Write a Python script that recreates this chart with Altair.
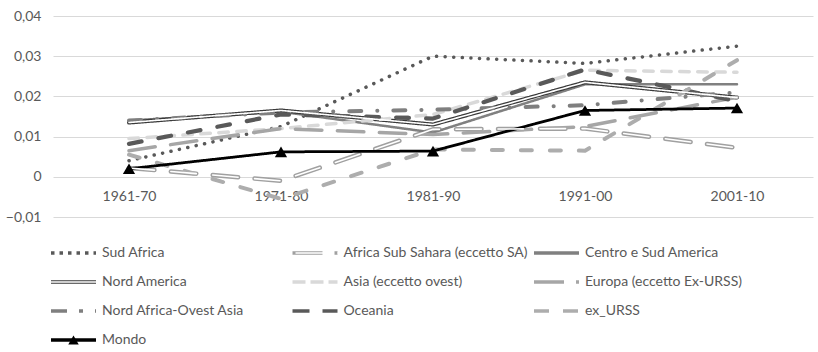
import json
import altair as alt
import pandas as pd

periods = ["1961-70", "1971-80", "1981-90", "1991-00", "2001-10"]
series = ["Sud Africa", "Africa Sub Sahara (eccetto SA)", "Centro e Sud America",
          "Nord America", "Asia (eccetto ovest)", "Europa (eccetto Ex-URSS)",
          "Nord Africa-Ovest Asia", "Oceania", "ex_URSS", "Mondo"]

sud_africa = [0.0040, 0.0125, 0.0300, 0.0282, 0.0325]
africa_ss = [0.0022, -0.0010, 0.0118, 0.0120, 0.0072]
centro_sud_america = [0.0140, 0.0162, 0.0110, 0.0230, 0.0230]
nord_america = [0.0135, 0.0165, 0.0130, 0.0235, 0.0197]
asia = [0.0095, 0.0120, 0.0155, 0.0265, 0.0260]
europa = [0.0065, 0.0120, 0.0105, 0.0125, 0.0198]
nord_africa_ovest_asia = [0.0140, 0.0160, 0.0167, 0.0178, 0.0210]
oceania = [0.0082, 0.0155, 0.0145, 0.0267, 0.0188]
ex_urss = [0.0055, -0.0055, 0.0068, 0.0065, 0.0290]
mondo = [0.0020, 0.0062, 0.0064, 0.0165, 0.0171]

values = [sud_africa, africa_ss, centro_sud_america, nord_america, asia, europa,
          nord_africa_ovest_asia, oceania, ex_urss, mondo]

# styles
colors = ["#595959", "#a0a0a0", "#808080", "#3a3a3a", "#d9d9d9", "#a6a6a6",
          "#7f7f7f", "#595959", "#adadad", "#000000"]
widths = [3.5, 4.5, 2.5, 4, 3.5, 3.5, 4, 4.25, 4, 2.75]
# visible dash / gap lengths (as drawn in the legend, butt caps)
dashes_vis = [[3.5, 5], [30, 12], [1, 0], [1, 0], [13, 5], [30, 12],
              [16, 12, 4, 12], [17, 13], [15, 14], [1, 0]]
# same patterns for round-capped plot lines
dashes_plot = []
for d, w in zip(dashes_vis, widths):
    if d == [1, 0]:
        dashes_plot.append([1, 0])
    else:
        dashes_plot.append([max(d[i] - w, 0.1) if i % 2 == 0 else d[i] + w
                            for i in range(len(d))])
double = ["Africa Sub Sahara (eccetto SA)", "Nord America"]
inner_colors = ["white" if s in double else "transparent" for s in series]

rows = []
for s, vals in zip(series, values):
    for p, v in zip(periods, vals):
        rows.append({"series": s, "period": p, "value": v})
df = pd.DataFrame(rows)

FONT = "Lato"
TXT = "#595959"
FS = 14
series_js = json.dumps(series)
w_expr = f"{json.dumps(widths)}[indexof({series_js}, datum.series)]"
dv_expr = f"{json.dumps(dashes_vis)}[indexof({series_js}, datum.value)]"

legend_common = dict(
    orient="none", legendX=-4, legendY=229, columns=3, gridAlign="all",
    direction="horizontal", clipHeight=16, rowPadding=13,
    labelFont=FONT, labelFontSize=FS, labelColor=TXT,
    labelOffset=4, title=None, labelLimit=400,
)

x_enc = alt.X("period:N", sort=periods, scale=alt.Scale(type="point", padding=0.5),
              axis=alt.Axis(title=None, domain=False, ticks=False, grid=False,
                            offset=-40.2, labelPadding=13, labelAngle=0,
                            labelFont=FONT, labelFontSize=FS, labelColor=TXT))
y_enc = alt.Y("value:Q", scale=alt.Scale(domain=[-0.01, 0.04], nice=False, zero=False),
              axis=alt.Axis(title=None, values=[-0.01, 0, 0.01, 0.02, 0.03, 0.04],
                            domain=False, ticks=False, grid=True, gridColor="#d9d9d9",
                            labelPadding=12,
                            labelExpr="datum.value == 0 ? '0' : replace(format(datum.value, '.2f'), '.', ',')",
                            labelFont=FONT, labelFontSize=FS, labelColor=TXT))

base = alt.Chart(df)

lines = base.mark_line(strokeCap="round", strokeJoin="round").encode(
    x=x_enc,
    y=y_enc,
    color=alt.Color("series:N", sort=series,
                    scale=alt.Scale(range=colors),
                    legend=alt.Legend(**legend_common, symbolType="stroke",
                                      symbolSize=2025, columnPadding=3.5,
                                      symbolStrokeWidth=3.5,
                                      symbolDash={"expr": dv_expr})),
    strokeDash=alt.StrokeDash("series:N", sort=series,
                              scale=alt.Scale(range=dashes_plot), legend=None),
    strokeWidth=alt.StrokeWidth("w:Q", scale=None, legend=None),
).transform_calculate(w=w_expr)

inner = base.mark_line(strokeCap="round", strokeJoin="round", strokeWidth=1.6).encode(
    x=x_enc,
    y=y_enc,
    stroke=alt.Stroke("series2:N", sort=series,
                      scale=alt.Scale(range=inner_colors),
                      legend=alt.Legend(**legend_common, labelExpr="''",
                                        symbolType="stroke", symbolSize=2025,
                                        columnPadding=192.5, symbolOffset=1,
                                        symbolStrokeWidth=1.6,
                                        symbolDash={"expr": dv_expr})),
    strokeDash=alt.StrokeDash("series:N", sort=series,
                              scale=alt.Scale(range=dashes_plot), legend=None),
).transform_calculate(series2="datum.series")

markers = base.mark_point(filled=True, size=150, opacity=1, color="black").encode(
    x=x_enc, y=y_enc,
    shape=alt.Shape("series:N",
                    scale=alt.Scale(domain=series, range=["triangle-up"]),
                    legend=alt.Legend(**legend_common, labelExpr="''",
                                      symbolSize=110, symbolFillColor="black",
                                      symbolStrokeWidth=0,
                                      symbolOffset=17.5, columnPadding=217.5,
                                      symbolOpacity={"expr": "datum.value == 'Mondo' ? 1 : 0"})),
).transform_filter(alt.datum.series == "Mondo")

chart = alt.layer(lines, inner, markers).resolve_scale(shape="independent").properties(
    width=760, height=201,
    autosize=alt.AutoSizeParams(type="none"),
    padding={"left": 53, "top": 16, "right": 5, "bottom": 135},
    background="white",
).configure_view(stroke=None)

chart.save("out.html", embed_options={"renderer": "svg", "actions": False})
